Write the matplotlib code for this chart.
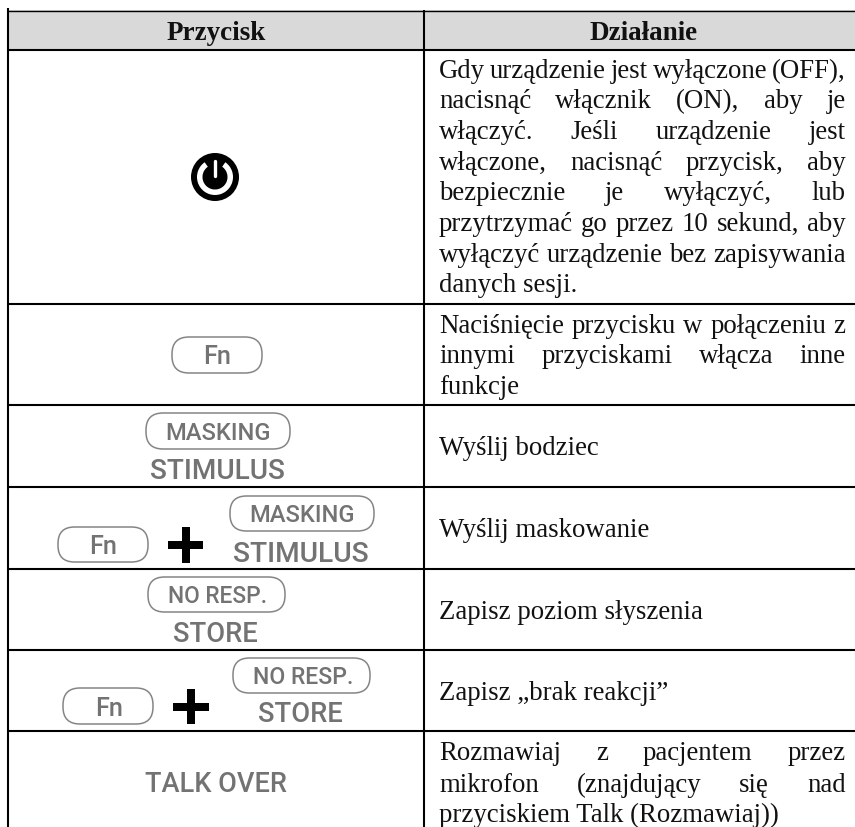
import matplotlib
matplotlib.use("Agg")
import matplotlib.pyplot as plt
from matplotlib.patches import Circle, FancyBboxPatch, Rectangle, Wedge

# Table text
headers = ["Przycisk", "Działanie"]

# (text, baseline y, justified?)
action_lines = [
    ("Gdy urządzenie jest wyłączone (OFF),", 78, True),
    ("nacisnąć włącznik (ON), aby je", 108.5, True),
    ("włączyć. Jeśli urządzenie jest", 139, True),
    ("włączone, nacisnąć przycisk, aby", 169.5, True),
    ("bezpiecznie je wyłączyć, lub", 200.5, True),
    ("przytrzymać go przez 10 sekund, aby", 231, True),
    ("wyłączyć urządzenie bez zapisywania", 262, True),
    ("danych sesji.", 292.5, False),
    ("Naciśnięcie przycisku w połączeniu z", 333, True),
    ("innymi przyciskami włącza inne", 363, True),
    ("funkcje", 394, False),
    ("Wyślij bodziec", 455, False),
    ("Wyślij maskowanie", 537, False),
    ("Zapisz poziom słyszenia", 619, False),
    ("Zapisz „brak reakcji”", 700, False),
    ("Rozmawiaj z pacjentem przez", 760, True),
    ("mikrofon (znajdujący się nad", 792, True),
    ("przyciskiem Talk (Rozmawiaj))", 822, False),
]

row_lines = [49.5, 304, 405, 487, 569, 650, 731]

# button pills: x0, x1, y0, y1
pills = [
    (172, 262, 337, 373),
    (146, 290, 413, 449),
    (58, 148, 527, 562),
    (230, 374, 496, 531),
    (148, 285, 577, 612),
    (63, 153, 688, 724),
    (233, 370, 658, 693),
]

# button labels: text, x0, x1, y0, y1
labels = [
    ("Fn", 203, 231, 347, 363),
    ("MASKING", 165, 271, 423, 440),
    ("STIMULUS", 150, 285, 459, 478),
    ("Fn", 89, 117, 537, 553),
    ("MASKING", 249, 355, 505, 522),
    ("STIMULUS", 233, 369, 541, 561),
    ("NO RESP.", 168, 268, 586, 602),
    ("STORE", 173, 258, 622, 642),
    ("Fn", 95, 123, 698, 714),
    ("NO RESP.", 253, 354, 667, 683),
    ("STORE", 258, 343, 702, 722),
    ("TALK OVER", 145, 287, 772, 792),
]

# plus signs: x0, x1, y0, y1
plus_signs = [
    (168, 203, 527, 563),
    (173, 209, 689, 724),
]

fig = plt.figure(figsize=(8.55, 8.27), dpi=100)
ax = fig.add_axes([0, 0, 1, 1])
ax.set_xlim(0, 855)
ax.set_ylim(827, 0)
ax.axis("off")

renderer = fig.canvas.get_renderer()


def text_width(t):
    return t.get_window_extent(renderer).width


BODY_FONT = "Liberation Serif"
BODY_SIZE = 19.3
HEAD_SIZE = 19.5
LEFT, RIGHT = 439, 845.5

# header band and grid
ax.add_patch(Rectangle((8, 10), 847, 40, color="#d9d9d9", lw=0, zorder=0))
ax.plot([8, 855], [10.5, 10.5], color="black", lw=1.0, zorder=3)
for y in row_lines:
    ax.plot([8, 855], [y, y], color="black", lw=1.5, zorder=3, solid_capstyle="butt")
ax.plot([8, 8], [8, 827], color="black", lw=1.5, zorder=3, solid_capstyle="butt")
ax.plot([424, 424], [10, 827], color="black", lw=1.5, zorder=3, solid_capstyle="butt")

# headers
ax.text(216, 40, headers[0], family=BODY_FONT, weight="bold", size=HEAD_SIZE,
        ha="center", va="baseline", color="#111111")
ax.text(643.5, 40, headers[1], family=BODY_FONT, weight="bold", size=HEAD_SIZE,
        ha="center", va="baseline", color="#111111")

# right column, justified by hand
for line, y, justified in action_lines:
    if not justified:
        ax.text(LEFT, y, line, family=BODY_FONT, size=BODY_SIZE, va="baseline",
                color="#111111")
        continue
    words = line.split(" ")
    items = [ax.text(0, y, w, family=BODY_FONT, size=BODY_SIZE, va="baseline",
                     color="#111111") for w in words]
    widths = [text_width(t) for t in items]
    gap = (RIGHT - LEFT - sum(widths)) / (len(words) - 1)
    x = LEFT
    for t, w in zip(items, widths):
        t.set_x(x)
        x += w + gap

# power icon
cx, cy = 215, 177
ax.add_patch(Circle((cx, cy), 24, color="black", lw=0))
ax.add_patch(Wedge((cx, cy), 18, -55, 235, width=5.5, color="white", lw=0))
ax.plot([cx, cx], [161, 176], color="white", lw=2.4, solid_capstyle="round")

# button outlines
for x0, x1, y0, y1 in pills:
    h = y1 - y0
    ax.add_patch(FancyBboxPatch((x0, y0), x1 - x0, h,
                                boxstyle=f"round,pad=0,rounding_size={h / 2 - 1}",
                                fc="white", ec="#858585", lw=1.1))

# button labels, sized to the box they take up
for label, x0, x1, y0, y1 in labels:
    t = ax.text((x0 + x1) / 2, (y0 + y1) / 2, label, family="Roboto", weight="medium",
                size=14, ha="center", va="center_baseline", color="#737373")
    t.set_fontsize(14 * (x1 - x0) / text_width(t))

# plus signs
for x0, x1, y0, y1 in plus_signs:
    xm, ym = (x0 + x1) / 2, (y0 + y1) / 2
    ax.add_patch(Rectangle((x0, ym - 4), x1 - x0, 8, color="black", lw=0))
    ax.add_patch(Rectangle((xm - 4, y0), 8, y1 - y0, color="black", lw=0))

fig.savefig("out.png", dpi=100)
